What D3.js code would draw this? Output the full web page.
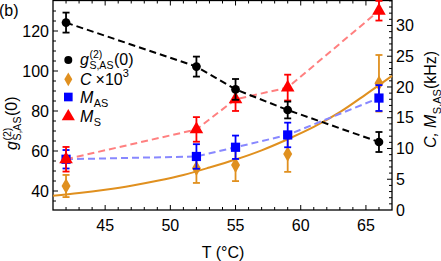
<!DOCTYPE html>
<html>
<head>
<meta charset="utf-8">
<script src="https://cdn.jsdelivr.net/npm/d3@7"></script>
<style>
  body { margin: 0; background: #fff; }
  svg { display: block; font-family: "Liberation Sans", Arial, sans-serif; }
</style>
</head>
<body>
<svg id="chart" width="441" height="261"></svg>
<script>
// data
const temps = [42, 52, 55, 59, 66];
const g2 = [124.2, 102.2, 90.8, 80.5, 64.5];
const g2Err = [5, 5, 5.2, 4.2, 5];
const cVals = [3.9, 6.8, 7.3, 9.1, 20.6];
const cErr = [1.8, 2.4, 2.6, 2.9, 4.6];
const mAS = [8.25, 8.7, 10.2, 12.2, 18.2];
const mASErr = [1.5, 2, 1.9, 2, 2.1];
const mS = [8.25, 13.1, 18.0, 19.9, 32.4];
const mSErr = [2, 2, 1.9, 2.1, 1.6];
// orange fit curve
const fitT = [41, 43, 45, 47, 49, 51, 53, 55, 57, 59, 61, 63, 65, 67];
const fitC = [2.3, 2.75, 3.3, 3.95, 4.75, 5.7, 6.9, 8.2, 9.7, 11.5, 13.5, 15.9, 18.8, 21.8];

const xTicks = [45, 50, 55, 60, 65];
const leftTicks = [40, 60, 80, 100, 120];
const rightTicks = [0, 5, 10, 15, 20, 25, 30];

const orange = "#e0901f";
const plotL = 53, plotR = 392, plotT = 0.5, plotB = 210;

const svg = d3.select("#chart");

const x = d3.scaleLinear().domain([41, 67]).range([plotL, plotR]);
const yL = d3.scaleLinear().domain([30.5, 135.25]).range([plotB, plotT]);
const yR = d3.scaleLinear().domain([0, 34.06]).range([plotB, plotT]);

// ticks (inward)
const tickG = svg.append("g").attr("stroke", "#000").attr("stroke-width", 1);
d3.range(42, 67).forEach(v => {
  const len = v % 5 === 0 ? 5 : 3;
  tickG.append("line").attr("x1", x(v)).attr("x2", x(v)).attr("y1", plotB).attr("y2", plotB - len);
  tickG.append("line").attr("x1", x(v)).attr("x2", x(v)).attr("y1", plotT).attr("y2", plotT + len);
});
d3.range(35, 135, 5).forEach(v => {
  const len = v % 20 === 0 ? 5 : 3;
  tickG.append("line").attr("x1", plotL).attr("x2", plotL + len).attr("y1", yL(v)).attr("y2", yL(v));
});
d3.range(1, 35).forEach(v => {
  const len = v % 5 === 0 ? 5 : 3;
  tickG.append("line").attr("x1", plotR).attr("x2", plotR - len).attr("y1", yR(v)).attr("y2", yR(v));
});

svg.append("rect").attr("x", plotL).attr("y", plotT).attr("width", plotR - plotL).attr("height", plotB - plotT)
  .attr("fill", "none").attr("stroke", "#000").attr("stroke-width", 1.3);

// tick labels
const lab = svg.append("g").attr("font-size", 16).attr("fill", "#000");
xTicks.forEach(v => lab.append("text").attr("x", x(v)).attr("y", 231).attr("text-anchor", "middle").text(v));
leftTicks.forEach(v => lab.append("text").attr("x", 49).attr("y", yL(v)).attr("dy", "0.36em").attr("text-anchor", "end").text(v));
rightTicks.forEach(v => lab.append("text").attr("x", 396).attr("y", yR(v)).attr("dy", "0.36em").text(v));

// fit curve
svg.append("path")
  .datum(fitT.map((t, i) => [t, fitC[i]]))
  .attr("d", d3.line().x(d => x(d[0])).y(d => yR(d[1])).curve(d3.curveMonotoneX))
  .attr("fill", "none").attr("stroke", orange).attr("stroke-width", 2);

// dashed connecting lines
function dashed(vals, scale, color) {
  svg.append("path")
    .datum(temps.map((t, i) => [t, vals[i]]))
    .attr("d", d3.line().x(d => x(d[0])).y(d => scale(d[1])))
    .attr("fill", "none").attr("stroke", color).attr("stroke-width", 2)
    .attr("stroke-dasharray", "7,4");
}
dashed(mAS, yR, "#8888ff");
dashed(mS, yR, "#ff8080");
dashed(g2, yL, "#000");

function errBars(vals, errs, scale, color) {
  const g = svg.append("g").attr("stroke", color).attr("stroke-width", 1.8);
  temps.forEach((t, i) => {
    const cx = x(t), y1 = scale(vals[i] - errs[i]), y2 = scale(vals[i] + errs[i]);
    g.append("line").attr("x1", cx).attr("x2", cx).attr("y1", y1).attr("y2", y2);
    g.append("line").attr("x1", cx - 3.5).attr("x2", cx + 3.5).attr("y1", y1).attr("y2", y1);
    g.append("line").attr("x1", cx - 3.5).attr("x2", cx + 3.5).attr("y1", y2).attr("y2", y2);
  });
}
function markers(vals, scale, type, size, color) {
  svg.append("g").selectAll("path").data(temps).join("path")
    .attr("transform", (t, i) => `translate(${x(t)},${scale(vals[i])})`)
    .attr("d", d3.symbol().type(type).size(size))
    .attr("fill", color);
}

errBars(cVals, cErr, yR, orange);
markers(cVals, yR, d3.symbolDiamond, 70, orange);
errBars(mAS, mASErr, yR, "#0000ff");
markers(mAS, yR, d3.symbolSquare, 85, "#0000ff");
errBars(mS, mSErr, yR, "#ff0000");
markers(mS, yR, d3.symbolTriangle, 80, "#ff0000");
errBars(g2, g2Err, yL, "#000");
markers(g2, yL, d3.symbolCircle, 60, "#000");

// rich text helpers
function txt(g, xx, yy, s, size, italic) {
  const t = g.append("text").attr("x", xx).attr("y", yy).attr("font-size", size).text(s);
  if (italic) t.attr("font-style", "italic");
  return t.node().getComputedTextLength();
}
function g2Label(g, xx, yy, size, supUp) {
  let w = txt(g, xx, yy, "g", size, true) + 0.5;
  const s = size * 0.66;
  const w1 = txt(g, xx + w, yy - size * supUp, "(2)", s);
  const w2 = txt(g, xx + w, yy + size * 0.28, "S,AS", s);
  w += Math.max(w1, w2) + 0.5;
  txt(g, xx + w, yy, "(0)", size);
}
function mLabel(g, xx, yy, size, sub) {
  const w = txt(g, xx, yy, "M", size, true) + 0.5;
  txt(g, xx + w, yy + size * 0.28, sub, size * 0.68);
}

// legend
const leg = svg.append("g");
const lx = 68.3;
leg.append("path").attr("transform", `translate(${lx},60)`).attr("d", d3.symbol().type(d3.symbolCircle).size(50)).attr("fill", "#000");
leg.append("path").attr("transform", `translate(${lx},79.3)`).attr("d", d3.symbol().type(d3.symbolDiamond).size(55)).attr("fill", orange);
leg.append("path").attr("transform", `translate(${lx},97)`).attr("d", d3.symbol().type(d3.symbolSquare).size(75)).attr("fill", "#0000ff");
leg.append("path").attr("transform", `translate(${lx},116.5)`).attr("d", d3.symbol().type(d3.symbolTriangle).size(75)).attr("fill", "#ff0000");
g2Label(leg, 80, 64.5, 16, 0.42);
{
  let w = txt(leg, 80, 84.5, "C", 16, true) + 4;
  w += txt(leg, 80 + w, 84.5, "\u00d710", 16);
  txt(leg, 80 + w, 77, "3", 11);
}
mLabel(leg, 80, 102.5, 16, "AS");
mLabel(leg, 80, 121.5, 16, "S");

// axis titles
const lt = svg.append("g").attr("transform", "translate(16.5,150) rotate(-90)");
g2Label(lt, 0, 0, 16, 0.36);

const rt = svg.append("g").attr("transform", "translate(436,148) rotate(-90)");
{
  let w = txt(rt, 0, 0, "C,", 16, true) + 4;
  w += txt(rt, w, 0, "M", 16, true) + 0.5;
  w += txt(rt, w, 4.5, "S,AS", 11);
  txt(rt, w, 0, "(kHz)", 16);
}

svg.append("text").attr("x", 223).attr("y", 258).attr("text-anchor", "middle").attr("font-size", 16).text("T (\u00b0C)");
svg.append("text").attr("x", -1).attr("y", 16).attr("font-size", 16).text("(b)");
</script>
</body>
</html>
